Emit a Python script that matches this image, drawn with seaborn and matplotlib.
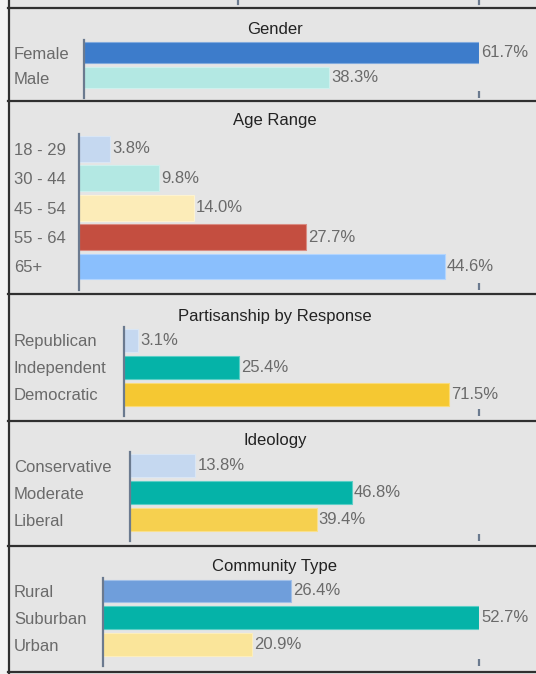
import matplotlib
matplotlib.use("Agg")
import matplotlib.pyplot as plt
from matplotlib.lines import Line2D
from matplotlib.patches import Rectangle
import matplotlib.colors as mcolors
import seaborn as sns
import pandas as pd

# ---- survey breakdowns (percent of respondents) ----
gender_labels = ["Female", "Male"]
gender_values = [61.7, 38.3]

age_labels = ["18 - 29", "30 - 44", "45 - 54", "55 - 64", "65+"]
age_values = [3.8, 9.8, 14.0, 27.7, 44.6]

party_labels = ["Republican", "Independent", "Democratic"]
party_values = [3.1, 25.4, 71.5]

ideology_labels = ["Conservative", "Moderate", "Liberal"]
ideology_values = [13.8, 46.8, 39.4]

community_labels = ["Rural", "Suburban", "Urban"]
community_values = [26.4, 52.7, 20.9]

# ---- layout (figure pixels, measured from the top-left corner) ----
W, H = 536, 674
AXIS_RIGHT = 479
LABEL_X = 14
BG = "#e5e5e5"
TEXT_GREY = "#6a6a6a"
SPINE = "#6b7a8f"

panels = [
    dict(title="Gender", labels=gender_labels, values=gender_values,
         colors=["#3d7ccb", "#b3e8e3"],
         axis_x=84, xmax=61.7, top=40, bottom=98, title_y=29, width=0.82),
    dict(title="Age Range", labels=age_labels, values=age_values,
         colors=["#c5d8f0", "#b3e8e3", "#fcecb8", "#c44e40", "#8abffd"],
         axis_x=79, xmax=48.75, top=134, bottom=290, title_y=121, width=0.88),
    dict(title="Partisanship by Response", labels=party_labels, values=party_values,
         colors=["#c5d8f0", "#05b3a8", "#f5c832"],
         axis_x=124, xmax=78.1, top=327, bottom=416, title_y=316, width=0.85),
    dict(title="Ideology", labels=ideology_labels, values=ideology_values,
         colors=["#c5d8f0", "#05b3a8", "#f6d04f"],
         axis_x=130, xmax=73.7, top=452.5, bottom=541, title_y=441, width=0.86),
    dict(title="Community Type", labels=community_labels, values=community_values,
         colors=["#6f9edb", "#05b3a8", "#fae59a"],
         axis_x=103, xmax=52.7, top=577.5, bottom=666, title_y=567, width=0.84),
]
borders = [7.5, 101, 294, 420.5, 545.5, 672]

plt.rcParams["font.family"] = ["Liberation Sans", "DejaVu Sans"]

fig = plt.figure(figsize=(W / 100, H / 100), dpi=100, facecolor=BG)


def fx(px):
    return px / W


def fy(py):
    return 1 - py / H


def lighten(c, amt):
    r, g, b = mcolors.to_rgb(c)
    return (r + (1 - r) * amt, g + (1 - g) * amt, b + (1 - b) * amt)


# pale strip left of the frame
fig.add_artist(Rectangle((0, 0), fx(8), 1, transform=fig.transFigure,
                         facecolor="#f3f3f3", edgecolor="none", zorder=0))

for p in panels:
    n = len(p["labels"])
    ax = fig.add_axes([fx(p["axis_x"]), fy(p["bottom"]),
                       fx(AXIS_RIGHT - p["axis_x"]), (p["bottom"] - p["top"]) / H])
    ax.set_facecolor("none")
    df = pd.DataFrame({"label": p["labels"], "value": p["values"]})
    sns.barplot(data=df, x="value", y="label", hue="label",
                palette=dict(zip(p["labels"], p["colors"])),
                order=p["labels"], hue_order=p["labels"],
                orient="h", width=p["width"], saturation=1,
                legend=False, ax=ax)
    for patch in ax.patches:
        patch.set_edgecolor(lighten(patch.get_facecolor(), 0.35))
        patch.set_linewidth(0.8)
    for cont, v in zip(ax.containers, p["values"]):
        ax.bar_label(cont, labels=[f"{v:.1f}%"], padding=1.5,
                     color=TEXT_GREY, fontsize=12)

    ax.set_xlim(0, p["xmax"])
    ax.set_ylim(n - 1 + 0.8, -0.5)
    ax.set_xlabel("")
    ax.set_ylabel("")
    for side in ("top", "right", "bottom"):
        ax.spines[side].set_visible(False)
    ax.spines["left"].set_color(SPINE)
    ax.spines["left"].set_linewidth(1.6)

    ax.set_xticks([p["xmax"]])
    ax.set_xticklabels([""])
    ax.tick_params(axis="x", direction="in", length=5, width=1.6, color=SPINE)

    pad_pts = (p["axis_x"] - LABEL_X) * 0.72
    ax.tick_params(axis="y", length=0, pad=pad_pts, labelsize=12,
                   labelcolor=TEXT_GREY)
    for t in ax.get_yticklabels():
        t.set_horizontalalignment("left")

    fig.text(fx(275), fy(p["title_y"]), p["title"], ha="center", va="center",
             fontsize=12, color="#222222")

# frame lines between panels
for b in borders:
    fig.add_artist(Line2D([fx(8), 1], [fy(b), fy(b)], transform=fig.transFigure,
                          color="#303030", linewidth=1.6))
fig.add_artist(Line2D([fx(9), fx(9)], [0, 1], transform=fig.transFigure,
                      color="#303030", linewidth=1.6))

# tick stubs of the panel above, cut off at the top edge
for x in (238, 479):
    fig.add_artist(Line2D([fx(x), fx(x)], [fy(0), fy(4)], transform=fig.transFigure,
                          color=SPINE, linewidth=1.6))

fig.savefig("out.png", dpi=100, facecolor=BG)
